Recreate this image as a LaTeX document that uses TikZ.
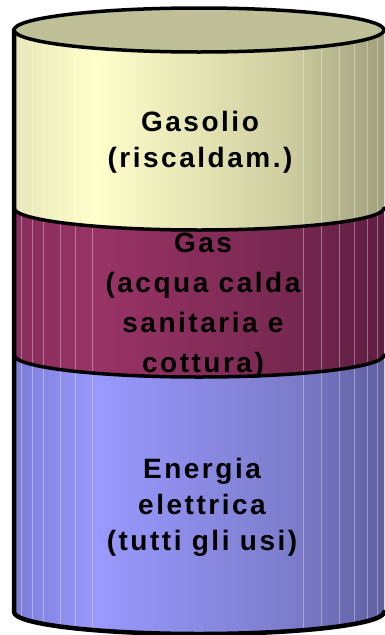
\documentclass[tikz,border=0pt]{standalone}
\usepackage{fontspec}
\setmainfont{Liberation Sans}
\newfontfamily\lblfont{Liberation Sans}[LetterSpace=9]
\definecolor{ylwL}{RGB}{230,230,185}
\definecolor{ylwM}{RGB}{255,255,204}
\definecolor{ylwD}{RGB}{205,205,160}
\definecolor{ylwR}{RGB}{160,160,125}
\definecolor{topc}{RGB}{192,192,152}
\definecolor{magL}{RGB}{135,45,92}
\definecolor{magM}{RGB}{153,51,102}
\definecolor{magD}{RGB}{120,40,80}
\definecolor{magR}{RGB}{95,30,65}
\definecolor{bluL}{RGB}{125,125,215}
\definecolor{bluM}{RGB}{153,153,255}
\definecolor{bluD}{RGB}{125,125,205}
\definecolor{bluR}{RGB}{95,95,160}
\pgfdeclarehorizontalshading{ylwside}{100bp}{color(0bp)=(ylwL); color(25bp)=(ylwL); color(36bp)=(ylwM); color(62bp)=(ylwD); color(75bp)=(ylwR); color(100bp)=(ylwR)}
\pgfdeclarehorizontalshading{magside}{100bp}{color(0bp)=(magL); color(25bp)=(magL); color(36bp)=(magM); color(62bp)=(magD); color(75bp)=(magR); color(100bp)=(magR)}
\pgfdeclarehorizontalshading{bluside}{100bp}{color(0bp)=(bluL); color(25bp)=(bluL); color(36bp)=(bluM); color(62bp)=(bluD); color(75bp)=(bluR); color(100bp)=(bluR)}
\tikzset{
  rim/.style={black,line width=3.5pt,line join=round,line cap=round},
  facet/.style={white,opacity=0.35,line width=0.6pt},
  lbl/.style={font=\lblfont\bfseries\fontsize{28}{36}\selectfont,align=center,text=black},
  gaslbl/.style={lbl,font=\lblfont\bfseries\fontsize{28}{40}\selectfont}
}

\begin{document}
\begin{tikzpicture}[x=1pt,y=-1pt]
		\useasboundingbox (0,0) rectangle (385,635);
		% side of the cylinder, bottom segment first
		\fill[shading=bluside] (14,355) -- (14,612) arc (180:0:185 and 22) -- (384,355) -- cycle;
		\fill[shading=magside] (14,208) -- (14,355) arc (180:0:185 and 22) -- (384,208) -- cycle;
		\fill[shading=ylwside] (14,30) -- (14,208) arc (180:0:185 and 22) -- (384,30) -- cycle;
		% facet lines
		\begin{scope}
			\clip (14,30) -- (14,612) arc (180:0:185 and 22) -- (384,30) -- cycle;
			\foreach \fx in {21,32,43,60,75,92,303,321,339,354,367,377}
				\draw[facet] (\fx,0) -- (\fx,635);
		\end{scope}
		% rims between the segments
		\draw[rim] (14,208) arc (180:0:185 and 22);
		\draw[rim] (14,355) arc (180:0:185 and 22);
		\draw[rim,line width=4.5pt] (14,30) -- (14,612) arc (180:0:185 and 22);
		% top face
		\filldraw[rim,fill=topc] (199,30) ellipse (185 and 22);
		% labels (base = last line)
		\node[lbl,anchor=base] (gasolio) at (200,167) {Gasolio\\(riscaldam.)};
		\node[gaslbl,anchor=base] (gas) at (203,372) {Gas\\(acqua calda\\sanitaria e\\cottura)};
		\node[lbl,anchor=base] (elettrica) at (202,550) {Energia\\elettrica\\(tutti gli usi)};
	\end{tikzpicture}
\end{document}
